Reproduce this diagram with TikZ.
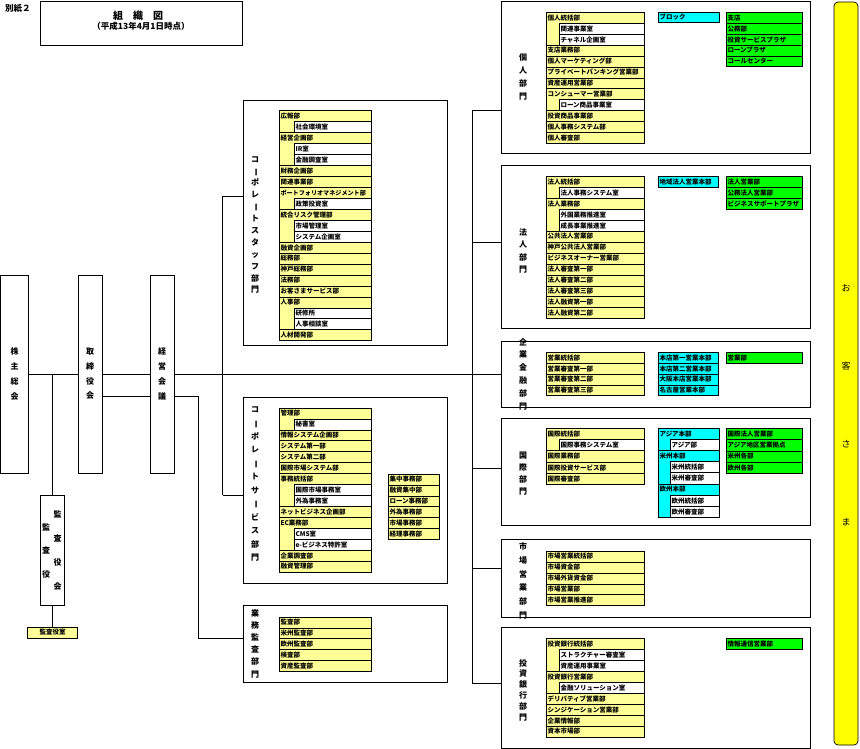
\documentclass[tikz,border=0pt]{standalone}
\usepackage{fontspec}
\usepackage{graphicx}
\setmainfont{Noto Sans CJK JP}
\definecolor{itemyellow}{RGB}{255,255,153}
\definecolor{blockcyan}{RGB}{0,255,255}
\definecolor{brgreen}{RGB}{0,255,0}
\definecolor{custyellow}{RGB}{255,255,0}
\newcommand\vb{\rotatebox[origin=c]{-90}{ー}}
% #1 x0, #2 y0, #3 width, #4 row height, #5 fill, #6 list, #7 indent, #8 name prefix
\newcommand\orgcol[8]{%
  \foreach \d/\s/\t [count=\i from 0] in {#6}{%
    \pgfmathsetmacro\yy{#2+\i*#4}%
    \ifnum\d=0
      \draw[cellline,fill=#5] (#1,\yy) rectangle ++(#3,\s*#4);
      \node[celltext] (#8-\i) at (#1,\yy+#4/2) {\t};
    \else
      \draw[cellline,fill=white] (#1+#7,\yy) rectangle ++(#3-#7,#4);
      \node[celltext] (#8-\i) at (#1+#7,\yy+#4/2) {\t};
    \fi
  }}
\tikzset{
  cellline/.style={draw=black,line width=0.6pt},
  celltext/.style={anchor=west,inner sep=0pt,xshift=1.3pt,font=\bfseries\fontsize{6.5}{7}\selectfont},
  deptbox/.style={draw=black,line width=0.7pt,fill=white,inner sep=0pt,outer sep=0pt},
  bigbox/.style={draw=black,line width=0.7pt,fill=white,inner sep=0pt,outer sep=0pt,align=center},
  vl/.style={font=\bfseries\fontsize{8}{#1}\selectfont,align=center,inner sep=0pt},
  conn/.style={draw=black,line width=0.7pt},
}
\begin{document}
\begin{tikzpicture}[x=1pt,y=-1pt]
\useasboundingbox (0,0) rectangle (860,749);
% ---------- title ----------
\node[font=\bfseries\fontsize{8.5}{10}\selectfont,inner sep=0pt] (bessi) at (18,8) {別紙２};
\node[draw=black,line width=0.7pt,minimum width=202pt,minimum height=44pt,inner sep=0pt] (titlebox) at (141,23) {};
\node[font=\bfseries\fontsize{10}{12}\selectfont,inner sep=0pt] (title1) at (138,15.7) {組　織　図};
\node[font=\bfseries\fontsize{8.5}{10}\selectfont,inner sep=0pt] (title2) at (141,26.7) {（平成13年4月1日時点）};
% ---------- connectors ----------
\coordinate (sA) at (222.7,196);
\coordinate (sB) at (222.7,495);
\coordinate (bT) at (472,110);
\coordinate (bC) at (472,242);
\coordinate (bI) at (472,468.3);
\coordinate (bM) at (472,568);
\coordinate (bB) at (472,683.7);
\coordinate (aT) at (198.7,396);
\coordinate (aB) at (198.7,638.3);
% ---------- left boxes ----------
\node[bigbox,vl=14.7,minimum width=28pt,minimum height=198pt] (kabu) at (14.5,374) {株\\主\\総\\会};
\node[bigbox,vl=14.7,minimum width=24pt,minimum height=198pt] (tori) at (90,374) {取\\締\\役\\会};
\node[bigbox,vl=14.7,minimum width=24pt,minimum height=198pt] (keiei) at (162,374) {経\\営\\会\\議};
\node[bigbox,minimum width=24pt,minimum height=110pt] (kansa) at (52.5,550) {};
\node[vl=24.3] (kansaR) at (57.5,550.5) {監\\査\\役\\会};
\node[vl=23.5] (kansaL) at (46,550.5) {監\\査\\役};
\node[draw=black,line width=0.6pt,fill=itemyellow,minimum width=50pt,minimum height=11pt,inner sep=0pt,font=\bfseries\fontsize{6.5}{7}\selectfont] (kansashitsu) at (52.5,632.5) {監査役室};
% ---------- dept boxes ----------
\node[deptbox,minimum width=204pt,minimum height=245pt] (cs) at (345,222.5) {};
\node[deptbox,minimum width=204pt,minimum height=186pt] (csvc) at (345,490) {};
\node[deptbox,minimum width=204pt,minimum height=77pt] (audit) at (345,643.5) {};
\node[deptbox,minimum width=309pt,minimum height=152pt] (indiv) at (655.5,77) {};
\node[deptbox,minimum width=309pt,minimum height=163pt] (corp) at (655.5,246.5) {};
\node[deptbox,minimum width=309pt,minimum height=66pt] (kigyo) at (655.5,374) {};
\node[deptbox,minimum width=309pt,minimum height=107pt] (intl) at (655.5,471.5) {};
\node[deptbox,minimum width=309pt,minimum height=78pt] (market) at (655.5,578) {};
\node[deptbox,minimum width=309pt,minimum height=121pt] (ib) at (655.5,687.5) {};
% ---------- connector lines ----------
\draw[conn] (kabu) -- (tori);
\draw[conn] (tori) -- (keiei);
\draw[conn] (keiei.east) -- (kigyo.west);
\draw[conn] (kansa.north |- kabu.east) -- (kansa.north);
\draw[conn] (kansa.south) -- (kansashitsu.north);
\draw[conn] (tori.east |- aT) -- (keiei.west |- aT);
\draw[conn] (keiei.east |- aT) -- (aT) -- (aB) -- (audit.west |- aB);
\draw[conn] (sA) -- (sB);
\draw[conn] (sA) -- (cs.west |- sA);
\draw[conn] (sB) -- (csvc.west |- sB);
\draw[conn] (bT) -- (bB);
\draw[conn] (bT) -- (indiv.west |- bT);
\draw[conn] (bC) -- (corp.west |- bC);
\draw[conn] (bI) -- (intl.west |- bI);
\draw[conn] (bM) -- (market.west |- bM);
\draw[conn] (bB) -- (ib.west |- bB);
% ---------- vertical labels ----------
\node[vl=11.9] (csT) at (255,225) {コ\\\vb\\ポ\\レ\\\vb\\ト\\ス\\タ\\ッ\\フ\\部\\門};
\node[vl=13.45] (csvcT) at (255,484) {コ\\\vb\\ポ\\レ\\\vb\\ト\\サ\\\vb\\ビ\\ス\\部\\門};
\node[vl=12.2] (auditT) at (255,643.5) {業\\務\\監\\査\\部\\門};
\node[vl=13.1] (indivT) at (523,77) {個\\人\\部\\門};
\node[vl=12.3] (corpT) at (523,251) {法\\人\\部\\門};
\node[vl=12.8] (kigyoT) at (523,374) {企\\業\\金\\融\\部\\門};
\node[vl=12] (intlT) at (523,474) {国\\際\\部\\門};
\node[vl=13.7] (marketT) at (523,581) {市\\場\\営\\業\\部\\門};
\node[vl=10.8] (ibT) at (523,690) {投\\資\\銀\\行\\部\\門};
% ---------- item columns ----------
\orgcol{279}{110.7}{92}{10.95}{itemyellow}{0/2/広報部, 1/1/社会環境室, 0/3/経営企画部, 1/1/IR室, 1/1/金融調査室, 0/1/財務企画部, 0/1/関連事業部, 0/2/{\fontsize{6.1}{7}\selectfont ポートフォリオマネジメント部}, 1/1/政策投資室, 0/3/統合リスク管理部, 1/1/市場管理室, 1/1/システム企画室, 0/1/融資企画部, 0/1/総務部, 0/1/神戸総務部, 0/1/法務部, 0/1/お客さまサービス部, 0/3/人事部, 1/1/研修所, 1/1/人事相談室, 0/1/人材開発部}{15}{csI}
\orgcol{279}{408}{92}{10.93}{itemyellow}{0/2/管理部, 1/1/秘書室, 0/1/情報システム企画部, 0/1/システム第一部, 0/1/システム第二部, 0/1/国際市場システム部, 0/3/事務統括部, 1/1/国際市場事務室, 1/1/外為事務室, 0/1/ネットビジネス企画部, 0/3/EC業務部, 1/1/CMS室, 1/1/e-ビジネス特許室, 0/1/企業調査部, 0/1/融資管理部}{15}{csvcI}
\orgcol{388}{474}{51}{10.9}{itemyellow}{0/1/集中事務部, 0/1/融資集中部, 0/1/ローン事務部, 0/1/外為事務部, 0/1/市場事務部, 0/1/経理事務部}{0}{csvcJ}
\orgcol{279}{617}{92}{10.8}{itemyellow}{0/1/監査部, 0/1/米州監査部, 0/1/欧州監査部, 0/1/検査部, 0/1/資産監査部}{0}{auditI}
% individual
\orgcol{546}{12.3}{98}{10.92}{itemyellow}{0/3/個人統括部, 1/1/関連事業室, 1/1/チャネル企画室, 0/1/支店業務部, 0/1/個人マーケティング部, 0/1/プライベートバンキング営業部, 0/1/資産運用営業部, 0/2/コンシューマー営業部, 1/1/ローン商品事業室, 0/1/投資商品事業部, 0/1/個人事務システム部, 0/1/個人審査部}{13}{indivI}
\orgcol{658}{12.3}{61}{10}{blockcyan}{0/1/ブロック}{0}{indivC}
\orgcol{726}{12.3}{76.5}{10.88}{brgreen}{0/1/支店, 0/1/公務部, 0/1/投資サービスプラザ, 0/1/ローンプラザ, 0/1/コールセンター}{0}{indivG}
% corporate
\orgcol{546}{176.3}{98}{10.95}{itemyellow}{0/2/法人統括部, 1/1/法人事務システム室, 0/3/法人業務部, 1/1/外国業務推進室, 1/1/成長事業推進室, 0/1/公共法人営業部, 0/1/神戸公共法人営業部, 0/1/ビジネスオーナー営業部, 0/1/法人審査第一部, 0/1/法人審査第二部, 0/1/法人審査第三部, 0/1/法人融資第一部, 0/1/法人融資第二部}{13}{corpI}
\orgcol{658}{176.3}{60}{10.7}{blockcyan}{0/1/地域法人営業本部}{0}{corpC}
\orgcol{726}{176.3}{76.5}{11}{brgreen}{0/1/法人営業部, 0/1/公務法人営業部, 0/1/ビジネスサポートプラザ}{0}{corpG}
% kigyo kinyu
\orgcol{546}{352.3}{98}{10.85}{itemyellow}{0/1/営業統括部, 0/1/営業審査第一部, 0/1/営業審査第二部, 0/1/営業審査第三部}{0}{kigyoI}
\orgcol{658}{352.3}{60}{10.85}{blockcyan}{0/1/本店第一営業本部, 0/1/本店第二営業本部, 0/1/大阪本店営業本部, 0/1/名古屋営業本部}{0}{kigyoC}
\orgcol{726}{352.3}{76.5}{10.7}{brgreen}{0/1/営業部}{0}{kigyoG}
% international
\orgcol{546}{428.3}{98}{11.2}{itemyellow}{0/2/国際統括部, 1/1/国際事務システム室, 0/1/国際業務部, 0/1/国際投資サービス部, 0/1/国際審査部}{13}{intlI}
\orgcol{658}{428.3}{61}{11.12}{blockcyan}{0/2/アジア本部, 1/1/アジア部, 0/3/米州本部, 1/1/米州統括部, 1/1/米州審査部, 0/3/欧州本部, 1/1/欧州統括部, 1/1/欧州審査部}{12}{intlC}
\orgcol{726}{428.3}{76.5}{11.25}{brgreen}{0/1/国際法人営業部, 0/1/アジア地区営業拠点, 0/1/米州各部, 0/1/欧州各部}{0}{intlG}
% market
\orgcol{546}{551}{98}{10.94}{itemyellow}{0/1/市場営業統括部, 0/1/市場資金部, 0/1/市場外貨資金部, 0/1/市場営業部, 0/1/市場営業推進部}{0}{marketI}
% investment banking
\orgcol{546}{638.7}{98}{10.92}{itemyellow}{0/3/投資銀行統括部, 1/1/ストラクチャー審査室, 1/1/資産運用事業室, 0/2/投資銀行営業部, 1/1/金融ソリューション室, 0/1/デリバティブ営業部, 0/1/シンジケーション営業部, 0/1/企業情報部, 0/1/資本市場部}{13}{ibI}
\orgcol{726}{638.7}{76.5}{10.6}{brgreen}{0/1/情報通信営業部}{0}{ibG}
% ---------- customers ----------
\node[draw=black,line width=0.7pt,fill=custyellow,rounded corners=4pt,minimum width=24pt,minimum height=743pt,inner sep=0pt] (okyaku) at (846,373.5) {};
\node[font=\fontsize{9}{78}\selectfont,align=center,inner sep=0pt] (okyakuT) at (846,405.5) {お\\客\\さ\\ま};
\end{tikzpicture}
\end{document}
